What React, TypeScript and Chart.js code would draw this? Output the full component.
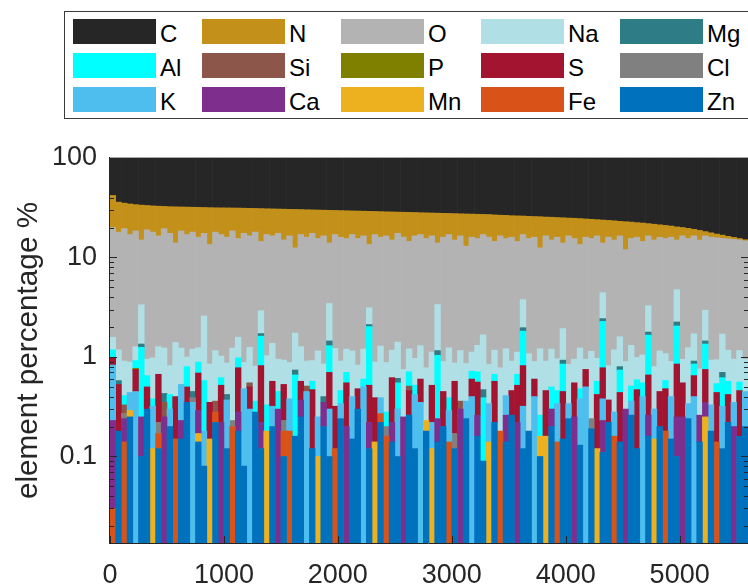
import React, { useEffect, useRef } from 'react';
import { Chart, registerables } from 'chart.js';

Chart.register(...registerables);

// ---------- data (element percentage per group of 50 particles, sorted by carbon) ----------
const BIN_SIZE = 50;
const X_MAX = 5600;
const Y_MIN = 0.0135;
const Y_MAX = 100;
const xTickValues = [0, 1000, 2000, 3000, 4000, 5000];
const yTickValues = [0.1, 1, 10, 100];
const yTickLabels = ['0.1', '1', '10', '100'];

const elements = ['C', 'N', 'O', 'Na', 'Mg', 'Al', 'Si', 'P', 'S', 'Cl', 'K', 'Ca', 'Mn', 'Fe', 'Zn'];

const elementColors: Record<string, string> = {
  C: '#262626', N: '#C3901A', O: '#B3B3B3', Na: '#B0DFE5', Mg: '#2E7D86',
  Al: '#00FFFF', Si: '#8C564B', P: '#808000', S: '#A2142F', Cl: '#808080',
  K: '#4DBEEE', Ca: '#7E2F8E', Mn: '#EDB120', Fe: '#D95319', Zn: '#0072BD',
};

const C = [58,64,64.8,65.5,66,66.4,66.7,67,67.2,67.4,67.6,67.7,67.8,67.9,
68,68.1,68.2,68.3,68.4,68.45,68.5,68.55,68.6,68.7,68.8,68.9,69,69.1,
69.2,69.3,69.4,69.5,69.6,69.7,69.8,69.9,70,70.1,70.2,70.3,70.4,70.5,
70.6,70.7,70.8,70.9,71,71.1,71.2,71.3,71.4,71.5,71.6,71.7,71.8,71.9,
72,72.1,72.2,72.3,72.4,72.5,72.6,72.7,72.8,72.9,73,73.2,73.4,73.5,
73.7,73.8,73.9,74.1,74.2,74.3,74.5,74.6,74.8,74.9,75.1,75.2,75.4,75.6,
75.8,76,76.2,76.4,76.6,76.9,77.1,77.3,77.6,77.8,78.1,78.4,78.7,79,
79.3,79.7,80,80.4,80.8,81.3,81.8,82.3,82.8,83.2,83.7,84.1,84.5,84.9];

const N = [22,18,15.7,17.5,15.5,18.6,14.3,15,16.3,13.1,14.9,18.3,13.7,15.1,
14,15.9,14.3,18.2,13.6,14.55,15.5,12.95,15.9,13.8,14.7,13.1,16.5,13.9,
14.3,13.2,15.6,14,17.9,13.3,14.2,12.6,14.5,13.4,15.8,12.7,13.6,14,
12.4,13.8,12.7,15.6,12,12.9,12.3,13.7,11.1,12.5,13.9,11.8,11.2,12.6,
11.5,13.9,11.8,10.7,12.6,11,14.4,11.3,11.7,10.1,11,12.3,10.1,11,
10.3,11.7,9.1,10.4,9.8,13.2,9,10.4,9.2,11.1,8.4,9.3,11.1,8.4,
8.7,7.5,9.8,7.6,8.4,6.6,10.9,7.2,6.4,7.7,5.4,6.6,5.3,5.5,
4.7,5.3,3.5,4.1,2.7,3.7,1.7,1.7,1.4,1.2,0.9,0.7,0.5,0.4];

const O = [18.42,16.82,18.59,16.11,17.23,11.65,18.05,17.02,15.23,18.27,16.68,12.6,17.27,16.0,
16.8,14.76,14.92,12.65,16.84,15.98,15.13,17.27,13.92,16.62,15.25,17.19,11.58,15.97,
15.13,16.55,14.07,15.62,10.76,15.73,15.09,16.58,14.35,15.65,10.55,15.78,15.09,14.3,
15.85,14.67,15.3,10.38,16.11,14.71,15.62,13.83,16.09,15.25,13.29,15.53,15.7,14.72,
15.38,10.64,15.1,15.76,14.13,15.34,12.14,14.88,14.19,15.33,15.16,13.33,15.72,14.29,
15.09,13.38,13.23,14.42,15.1,11.29,15.59,13.8,15.04,12.07,15.66,14.55,12.27,15.05,
14.36,15.53,9.57,15.18,13.82,14.9,11.1,14.19,15.01,13.45,13.22,14.2,14.85,14.42,
15.1,10.25,15.55,14.26,14.79,14.24,13.55,15.07,14.86,13.9,14.23,14.25,13.84,13.75];

const Na = [0.4,0.6,0.5,0.45,0.35,2,0.3,0.6,0.6,0.8,0.4,1,0.7,0.2,
0.75,0.35,2,0.5,0.8,0.4,0.45,1,0.6,0.4,0.7,0.45,1.2,0.7,
0.8,0.5,0.4,0.5,1,0.7,0.4,0.35,0.9,0.45,2,0.9,0.45,0.5,
0.75,0.35,0.6,1,0.5,0.9,0.6,0.55,0.8,0.5,0.5,0.45,0.7,0.55,
0.6,2.2,0.45,0.85,0.3,0.8,0.5,0.4,0.6,1.2,0.5,0.5,0.6,0.8,
0.45,0.45,1.8,0.9,0.3,0.95,0.45,0.7,0.5,1,0.5,0.4,0.75,0.2,
0.9,0.4,2,0.45,0.9,0.8,0.6,0.8,0.4,0.5,1.5,0.5,0.7,0.5,
0.5,2.5,0.4,0.9,0.8,0.5,1.5,0.6,0.4,1,0.6,0.6,0.6,0.5];

const Mg = [0,0.05,0,0,0,0.1,0,0,0,0.08,0,0,0,0,
0.06,0,0,0,0,0,0.05,0,0,0,0,0,0.1,0,
0,0,0,0,0.08,0,0,0,0,0.05,0.15,0,0,0,
0,0,0,0.1,0,0,0,0,0.06,0,0,0,0,0,
0,0.12,0,0,0,0,0,0,0,0.08,0,0,0,0,
0,0,0.15,0,0,0,0,0,0,0.08,0,0,0,0,
0,0,0.15,0,0,0.06,0,0,0,0,0.12,0,0,0,
0,0.2,0,0,0.06,0,0.1,0,0,0.08,0,0,0,0];

const Al = [0.2,0,0.08,0,0.15,1,0.15,0.06,0,0,0.12,0,0,0.3,
0,0.2,0.4,0,0,0.1,0,0,0.2,0,0,0.08,0.8,0.15,
0,0.15,0,0,0.5,0,0,0.1,0,0,0.6,0,0.12,0.15,
0,0,0.1,1.5,0,0,0.08,0,0.25,0,0.2,0.1,0,0,
0,0.8,0,0.1,0,0,0,0.12,0.15,0.3,0,0.1,0,0,
0,0.15,1,0,0,0.1,0,0.2,0.12,0.4,0,0,0.1,0,
0,0.15,1.5,0,0,0.3,0,0.15,0.12,0.15,1,0,0,0.1,
0,1.2,0,0,0.2,0,0.6,0,0.1,0.3,0.15,0,0.1,0];

const Si = [0,0,0.06,0,0,0,0,0,0,0.1,0,0,0,0,
0,0,0,0,0.08,0,0,0,0,0,0.05,0,0,0,
0,0,0,0,0,0,0.06,0,0,0,0,0,0,0,
0,0,0,0,0,0,0,0,0,0,0.05,0,0,0,
0,0,0,0,0,0.06,0,0,0,0,0,0,0,0,
0,0,0,0,0,0,0,0,0,0,0,0,0,0,
0,0,0,0,0,0,0,0,0,0,0,0,0,0,
0,0,0,0,0,0,0,0,0,0,0,0,0,0];

const P = [0,0,0,0,0.02,0,0,0,0,0,0,0,0,0,
0,0,0,0,0,0,0,0,0,0,0,0,0,0,
0,0,0,0,0,0,0,0,0,0,0,0,0,0,
0,0,0,0,0,0,0,0,0,0,0,0,0,0,
0,0,0,0,0,0,0,0,0,0,0,0,0,0,
0,0,0,0,0,0,0,0,0,0,0,0,0,0,
0,0,0,0,0,0,0,0,0,0,0,0,0,0,
0,0,0,0,0,0,0,0,0,0,0,0,0,0];

const S = [0.15,0.35,0,0,0.3,0,0.2,0,0.45,0,0,0.25,0,0.15,
0,0.4,0,0.2,0,0.3,0,0,0.5,0,0.2,0,0.6,0,
0.25,0,0.3,0,0,0.2,0,0.35,0,0,0.4,0.2,0,0.35,
0,0.18,0,0.3,0.25,0,0,0.4,0,0,0.2,0,0.25,0,
0.3,0,0.25,0,0.4,0,0,0.2,0.3,0,0,0.35,0,0,
0.2,0.3,0.5,0,0.2,0,0.3,0,0,0.3,0,0.3,0,0.25,
0,0.3,0.4,0.15,0,0.3,0,0,0.35,0,0.4,0,0.25,0.3,
0,0.6,0.3,0,0.25,0,0.4,0,0.3,0,0.2,0,0.3,0];

const Cl = [0,0,0.03,0,0,0,0,0,0.05,0,0,0,0,0,
0.04,0,0,0,0,0,0,0.03,0,0,0,0,0,0,
0,0,0.05,0,0,0,0,0,0,0,0,0,0,0,
0,0,0,0,0,0,0.04,0,0,0,0,0,0,0,
0,0,0,0,0.05,0,0,0,0,0,0,0,0,0,
0,0,0,0,0,0,0,0,0,0,0,0,0,0,
0.05,0,0,0,0,0,0,0,0,0,0,0,0,0,
0,0,0,0,0,0,0,0,0,0,0,0,0,0];

const K = [0.6,0,0,0.15,0.45,0,0,0.2,0,0,0.1,0,0.3,0,
0.35,0,0.1,0,0,0,0.25,0,0,0.4,0.3,0,0,0,
0.12,0,0,0.2,0,0,0.45,0,0.15,0,0.2,0,0.1,0,
0.25,0,0.5,0,0,0.12,0,0,0.2,0,0,0.3,0.35,0,
0.1,0,0,0.15,0,0,0.12,0.4,0,0,0.2,0,0,0.15,
0,0,0.2,0,0.4,0,0,0,0.2,0,0.1,0,0.25,0.5,
0,0,0.15,0,0.12,0,0,0.1,0,0.4,0,0.15,0,0,
0.25,0,0,0.1,0.4,0,0,0.15,0,0.2,0,0.15,0,0.25];

const Ca = [0.2,0,0.1,0,0,0.15,0,0,0,0.25,0,0,0.08,0,
0,0.12,0,0,0,0.22,0,0,0.1,0,0,0,0.1,0,
0,0.3,0,0,0,0.12,0,0,0,0.15,0,0,0,0.2,
0,0,0,0.1,0,0,0,0.08,0,0.25,0,0,0,0,
0,0.1,0,0,0,0.3,0,0,0.1,0,0,0,0,0.12,
0,0.22,0,0,0,0,0,0.1,0,0,0,0.25,0,0,
0,0,0.12,0,0,0,0.3,0,0,0,0.1,0,0,0,
0,0.15,0.25,0,0,0.12,0.1,0,0,0,0,0.2,0,0];

const Mn = [0,0,0,0.04,0,0,0,0.12,0,0,0,0,0,0,
0,0.03,0,0.15,0,0,0,0,0,0,0,0,0,0.18,
0,0,0,0,0,0,0,0,0.1,0,0,0,0,0,
0,0,0,0,0.14,0,0,0,0,0,0,0,0,0.05,
0.12,0,0,0,0,0,0,0,0,0,0.14,0,0,0,
0,0,0,0,0,0.06,0.16,0,0,0,0,0,0,0,
0,0.12,0,0,0,0,0,0,0,0,0,0.15,0,0,
0,0,0,0,0,0,0.25,0,0,0,0,0,0,0];

const Fe = [0.03,0,0.14,0,0,0,0,0,0.05,0,0,0.15,0,0,
0,0,0,0,0.06,0,0,0.2,0,0,0,0,0,0,
0,0,0.08,0.18,0,0,0,0,0,0,0,0.12,0,0,
0,0,0,0,0,0.05,0.16,0,0,0,0,0,0,0,
0,0,0,0.14,0,0,0,0,0,0,0,0,0.18,0,
0,0,0,0,0,0,0,0,0.14,0,0,0,0,0,
0,0,0,0,0.16,0,0,0,0,0,0,0,0,0.18,
0,0,0,0,0,0,0,0,0.14,0,0,0,0,0];

const Zn = [0,0.18,0,0.25,0,0.1,0.3,0,0.12,0,0.2,0,0.15,0.35,
0,0.14,0.08,0,0.22,0,0.12,0,0.18,0.08,0,0.28,0.12,0,
0.2,0,0.1,0,0.16,0.25,0,0.12,0,0.2,0.1,0,0.24,0,
0.15,0.3,0,0.12,0,0.22,0,0.14,0.1,0,0.26,0.12,0,0.18,
0,0.14,0.2,0,0.12,0,0.24,0,0.16,0.09,0,0.22,0,0.14,
0.26,0,0.12,0.18,0,0.1,0,0.2,0,0.15,0.24,0,0.13,0,
0.19,0,0.11,0.22,0,0.14,0,0.26,0.12,0,0.16,0,0.2,0,
0.15,0.1,0,0.24,0,0.14,0,0.18,0,0.12,0.22,0,0.16,0.2];

const seriesByElement: Record<string, number[]> = { C, N, O, Na, Mg, Al, Si, P, S, Cl, K, Ca, Mn, Fe, Zn };

// ---------- styling ----------
const FONT = 'Liberation Sans, Arial, Helvetica, sans-serif';
const AXIS_COLOR = '#262626';

const framePlugin = {
  id: 'matlabFrame',
  afterDatasetsDraw(chart: any) {
    const { ctx, chartArea, scales } = chart;
    const { left, right, top, bottom } = chartArea;
    const y = scales.y;
    const x = scales.x;
    ctx.save();
    ctx.lineWidth = 1;
    ctx.strokeStyle = '#a8a8a8';
    ctx.beginPath();
    ctx.moveTo(left, top - 0.5);
    ctx.lineTo(right, top - 0.5);
    ctx.stroke();
    ctx.strokeStyle = AXIS_COLOR;
    ctx.beginPath();
    ctx.moveTo(left - 0.5, top - 1);
    ctx.lineTo(left - 0.5, bottom + 1);
    ctx.moveTo(left - 1, bottom + 0.5);
    ctx.lineTo(right, bottom + 0.5);
    for (let d = -2; d <= 1; d++) {
      for (let k = 1; k <= 9; k++) {
        const v = k * Math.pow(10, d);
        if (v < Y_MIN || v > Y_MAX) continue;
        const py = Math.round(y.getPixelForValue(v)) + 0.5;
        const len = k === 1 ? 7 : 4;
        ctx.moveTo(left, py);
        ctx.lineTo(left + len, py);
        ctx.moveTo(right, py);
        ctx.lineTo(right - len, py);
      }
    }
    for (const v of xTickValues) {
      const px = Math.round(x.getPixelForValue(v)) + 0.5;
      ctx.moveTo(px, bottom);
      ctx.lineTo(px, bottom - 7);
      ctx.moveTo(px, top);
      ctx.lineTo(px, top + 7);
    }
    ctx.stroke();
    ctx.restore();
  },
};

const legendColLeft = [73, 202, 341, 481, 620];
const legendRowTop = [19, 53, 87];

export default function App() {
  const canvasRef = useRef<HTMLCanvasElement | null>(null);

  useEffect(() => {
    const canvas = canvasRef.current;
    if (!canvas) return;
    const stackOrder = [...elements].reverse();
    const datasets = stackOrder.map((el) => ({
      label: el,
      data: seriesByElement[el].map((v, i) => ({
        x: i * BIN_SIZE + BIN_SIZE / 2,
        y: v > 0 ? v : null,
      })),
      backgroundColor: elementColors[el],
      borderWidth: 0,
      categoryPercentage: 1,
      barPercentage: 1,
    }));

    const chart = new Chart(canvas, {
      type: 'bar',
      data: { datasets } as any,
      options: {
        responsive: false,
        animation: false,
        devicePixelRatio: 1,
        layout: { padding: { top: 158, left: 0, right: 0, bottom: 0 } },
        plugins: { legend: { display: false }, tooltip: { enabled: false } },
        scales: {
          x: {
            type: 'linear',
            stacked: true,
            min: 0,
            max: X_MAX,
            offset: false,
            afterBuildTicks: (s: any) => {
              s.ticks = xTickValues.map((v) => ({ value: v }));
            },
            afterFit: (s: any) => {
              s.height = 45;
            },
            grid: { display: false, drawTicks: false },
            border: { display: false },
            ticks: {
              autoSkip: false,
              maxRotation: 0,
              padding: 16,
              color: AXIS_COLOR,
              font: { family: FONT, size: 27 },
              callback: (v: any) => String(v),
            },
          },
          y: {
            type: 'logarithmic',
            stacked: true,
            min: Y_MIN,
            max: Y_MAX,
            afterBuildTicks: (s: any) => {
              s.ticks = yTickValues.map((v) => ({ value: v }));
            },
            afterFit: (s: any) => {
              s.width = 110;
            },
            grid: { display: false, drawTicks: false },
            border: { display: false },
            ticks: {
              autoSkip: false,
              padding: 13,
              color: AXIS_COLOR,
              font: { family: FONT, size: 27 },
              callback: (v: any) => {
                const idx = yTickValues.indexOf(Number(v));
                return idx >= 0 ? yTickLabels[idx] : '';
              },
            },
            title: {
              display: true,
              text: 'element percentage %',
              color: AXIS_COLOR,
              font: { family: FONT, size: 29.7, lineHeight: 1.2 },
              padding: { top: 11, bottom: 0 },
            },
          },
        },
      } as any,
      plugins: [framePlugin],
    });
    return () => chart.destroy();
  }, []);

  return (
    <div
      style={{
        position: 'fixed',
        left: 0,
        top: 0,
        width: 748,
        height: 588,
        overflow: 'hidden',
        background: '#ffffff',
      }}
    >
      <canvas
        ref={canvasRef}
        width={748}
        height={588}
        style={{ position: 'absolute', left: 0, top: 0, width: 748, height: 588 }}
      />
      <div
        style={{
          position: 'absolute',
          left: 64,
          top: 11,
          width: 720,
          height: 108,
          border: '1px solid #3a3a3a',
          boxSizing: 'border-box',
          background: '#ffffff',
        }}
      />
      {elements.map((el, i) => {
        const col = i % 5;
        const row = Math.floor(i / 5);
        const sx = legendColLeft[col];
        const sy = legendRowTop[row];
        return (
          <React.Fragment key={el}>
            <div
              style={{
                position: 'absolute',
                left: sx,
                top: sy,
                width: 83,
                height: 25,
                background: elementColors[el],
              }}
            />
            <div
              style={{
                position: 'absolute',
                left: sx + 87,
                top: sy + 2,
                height: 25,
                lineHeight: '25px',
                fontFamily: FONT,
                fontSize: 24,
                color: '#000000',
                whiteSpace: 'nowrap',
              }}
            >
              {el}
            </div>
          </React.Fragment>
        );
      })}
    </div>
  );
}
